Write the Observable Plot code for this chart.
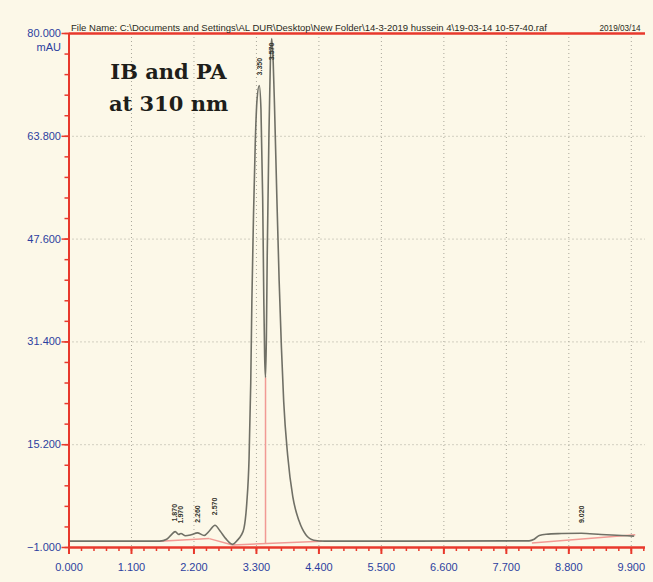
<!DOCTYPE html>
<html>
<head>
<meta charset="utf-8">
<script src="https://cdn.jsdelivr.net/npm/d3@7"></script>
<script src="https://cdn.jsdelivr.net/npm/@observablehq/plot@0.6"></script>
<style>
  html, body { margin: 0; padding: 0; background: #fcf8e8; }
  #chart { width: 653px; height: 582px; }
</style>
</head>
<body>
<div id="chart"></div>
<script>
// Axis ticks (retention time in min, absorbance in mAU)
const xTicks = [0, 1.1, 2.2, 3.3, 4.4, 5.5, 6.6, 7.7, 8.8, 9.9];
const yTicks = [-1, 15.2, 31.4, 47.6, 63.8, 80];

// Chromatogram trace
const traceTime = [
  0.00, 1.60, 1.72, 1.80, 1.87, 1.93, 1.97, 2.05, 2.15, 2.26, 2.38, 2.47, 2.57, 2.66, 2.76, 2.88,
  2.97, 3.03, 3.08, 3.13, 3.17, 3.20, 3.22, 3.25, 3.28, 3.31, 3.35, 3.38, 3.41, 3.43, 3.445, 3.46,
  3.475, 3.49, 3.52, 3.545, 3.57, 3.595, 3.62, 3.66, 3.70, 3.74, 3.78, 3.85, 3.94, 4.05, 4.17, 4.31,
  4.50, 8.10, 8.19, 8.28, 8.40, 8.67, 9.02, 9.37, 9.73, 9.94
];
const traceSignal = [
  0.00, 0.00, 0.30, 1.00, 1.50, 1.05, 1.20, 0.85, 1.00, 1.30, 0.90, 1.60, 2.50, 1.60, 0.40, -0.50,
  0.20, 0.90, 2.00, 6.00, 13.0, 25.0, 38.0, 52.0, 63.0, 69.5, 71.8, 68.0, 54.0, 38.0, 29.0, 25.8,
  32.0, 45.0, 64.0, 75.5, 79.2, 75.5, 68.0, 54.0, 41.0, 30.5, 22.0, 13.5, 7.0, 3.2, 1.0, 0.15,
  0.00, 0.05, 0.30, 0.90, 1.10, 1.20, 1.25, 1.05, 0.90, 0.80
];

// Detected peaks: retention time and apex height
const peakTimes   = [1.87, 1.97, 2.26, 2.57, 3.35, 3.57, 9.02];
const peakHeights = [1.50, 1.20, 1.30, 2.50, 71.8, 79.2, 1.25];

// Integration baselines (start/end time and level)
const baseT1 = [1.60, 2.47, 2.88, 8.15];
const baseV1 = [0.00, 0.40, -0.60, -0.30];
const baseT2 = [2.47, 2.88, 4.45, 9.97];
const baseV2 = [0.40, -0.60, 0.00, 1.00];

// Peak separation drop line
const dropT = [3.46];
const dropFrom = [-0.38];
const dropTo = [25.8];

const headerText = "File Name: C:\\Documents and Settings\\AL DUR\\Desktop\\New Folder\\14-3-2019 hussein 4\\19-03-14 10-57-40.raf";
const dateText = "2019/03/14";
const noteText = "IB and PA\nat 310 nm";

const trace = traceTime.map((t, i) => ({t, v: traceSignal[i]}));
const peaks = peakTimes.map((t, i) => ({t, h: peakHeights[i]}));
const baselines = baseT1.map((t, i) => ({x1: t, y1: baseV1[i], x2: baseT2[i], y2: baseV2[i]}));
const drops = dropT.map((t, i) => ({t, y1: dropFrom[i], y2: dropTo[i]}));

const red = "#e8392c";
const pink = "#f19a94";
const blue = "#2c3f9f";
const traceColor = "#707066";
const fmt = d3.format(".3f");
const minorX = d3.range(0, 10.2, 0.22);
const minorY = d3.range(-1, 80.01, 3.24);

const chart = Plot.plot({
  width: 653,
  height: 582,
  marginLeft: 68.5,
  marginRight: 8,
  marginTop: 33,
  marginBottom: 35,
  x: {domain: [0, 10.15], label: null},
  y: {domain: [-1, 80], label: null},
  style: {background: "transparent", fontFamily: "Arial, 'Liberation Sans', sans-serif"},
  marks: [
    // dotted grid
    Plot.ruleX(xTicks.filter(d => d > 0), {stroke: "#a9a79a", strokeDasharray: "1,3", strokeWidth: 1}),
    Plot.ruleY(yTicks.filter(d => d > -1 && d < 80), {stroke: "#a9a79a", strokeDasharray: "1,3", strokeWidth: 1}),

    // integration baselines and drop line
    Plot.link(baselines, {x1: "x1", y1: "y1", x2: "x2", y2: "y2", stroke: pink, strokeWidth: 1.5}),
    Plot.link(drops, {x1: "t", x2: "t", y1: "y1", y2: "y2", stroke: pink, strokeWidth: 1.5}),

    // chromatogram
    Plot.line(trace, {x: "t", y: "v", curve: "monotone-x", stroke: traceColor, strokeWidth: 1.6}),

    // peak retention time labels
    Plot.text(peaks, {
      x: "t", y: d => Math.min(d.h + 1.6, 75.8), text: d => fmt(d.t),
      rotate: -90, textAnchor: "start", fontSize: 7, fontWeight: "bold", fill: "#34342c"
    }),

    // axes
    Plot.axisY(minorY, {tickSize: 4, stroke: red, strokeWidth: 1.5, tickFormat: () => ""}),
    Plot.axisY(yTicks, {tickSize: 7, stroke: red, strokeWidth: 1.5, tickFormat: () => ""}),
    Plot.axisY(yTicks, {tickSize: 0, tickPadding: 8, tickFormat: fmt, color: blue, fontSize: 11}),
    Plot.text(["mAU"], {frameAnchor: "top-left", dx: -8, dy: 10, textAnchor: "end", fill: blue, fontSize: 11}),
    Plot.axisX(minorX, {tickSize: 4, stroke: red, strokeWidth: 1.5, tickFormat: () => ""}),
    Plot.axisX(xTicks, {tickSize: 7, stroke: red, strokeWidth: 2, tickFormat: () => ""}),
    Plot.axisX(xTicks, {tickSize: 0, tickPadding: 16, tickFormat: fmt, color: blue, fontSize: 11}),
    Plot.ruleX([0], {stroke: red, strokeWidth: 2}),
    Plot.ruleY([-1, 80], {stroke: red, strokeWidth: 2.5}),

    // header line and sample note
    Plot.text([headerText], {frameAnchor: "top-left", dx: 2, dy: -8, textAnchor: "start", fontSize: 8.2, fill: "#2a2a22"}),
    Plot.text([dateText], {frameAnchor: "top-right", dx: -5, dy: -8, textAnchor: "end", fontSize: 8.2, fill: "#2a2a22"}),
    Plot.text([noteText], {
      frameAnchor: "top-left", dx: 99.5, dy: 22, textAnchor: "middle", lineAnchor: "top",
      lineHeight: 1.55, fontSize: 21, fontWeight: "bold", fontFamily: "'DejaVu Serif', serif", fill: "#1e1e1a"
    })
  ]
});

// stretch the file-name header to the instrument printout width
d3.select(chart).selectAll("text")
  .filter(function() { return this.textContent === headerText; })
  .attr("textLength", 476)
  .attr("lengthAdjust", "spacingAndGlyphs");

document.getElementById("chart").appendChild(chart);
</script>
</body>
</html>
